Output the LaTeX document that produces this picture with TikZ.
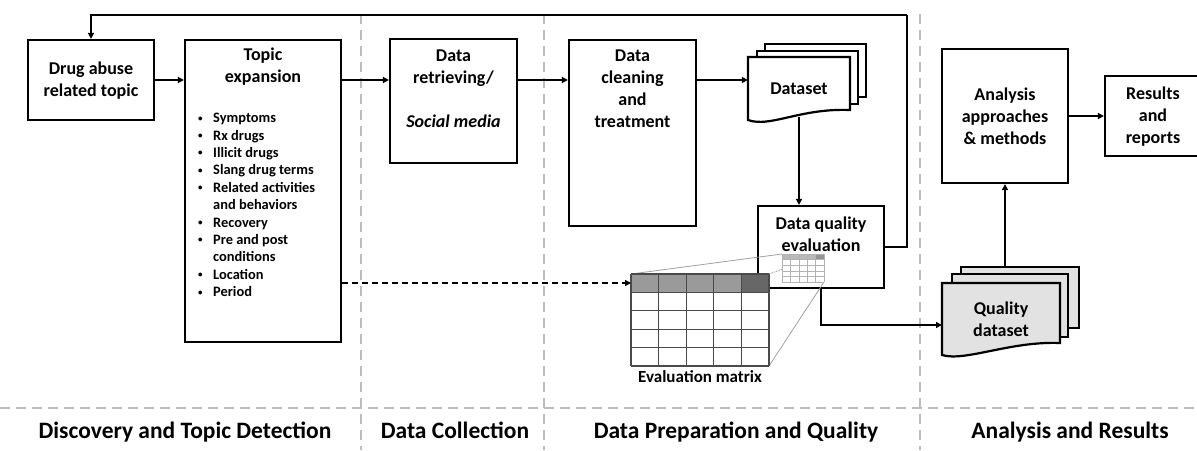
\documentclass[tikz,border=0pt]{standalone}
\usepackage{fontspec}
\setmainfont{Carlito}
\usetikzlibrary{arrows.meta}
\definecolor{sepgray}{HTML}{BDBDBD}
\definecolor{hdrgray}{HTML}{9A9A9A}
\definecolor{hdrdark}{HTML}{676767}
\definecolor{gridgray}{HTML}{4A4A4A}
\definecolor{zoomgray}{HTML}{A0A0A0}
\definecolor{qfill}{HTML}{E2E2E2}
\tikzset{
  box/.style={draw=black, line width=2.2pt, fill=white, inner sep=0pt},
  boxtext/.style={font=\bfseries\fontsize{18}{22}\selectfont, align=center, inner sep=0pt},
  arr/.style={line width=2pt, -{Triangle[length=6pt,width=6pt]}},
  dasharr/.style={line width=1.4pt, dash pattern=on 6pt off 4pt, -{Triangle[length=6pt,width=6pt]}},
  sep/.style={draw=sepgray, line width=2pt, dash pattern=on 10pt off 6pt},
  docline/.style={draw=black, line width=2.2pt},
  phase/.style={font=\bfseries\fontsize{23.5}{27}\selectfont, inner sep=0pt, anchor=base},
  bullets/.style={font=\bfseries\fontsize{14.4}{17.4}\selectfont, align=left, inner sep=0pt, anchor=north west},
}
\newcommand{\itm}[1]{\makebox[15pt][l]{\raisebox{1.5pt}{\fontsize{9}{9}\selectfont\textbullet}}#1}
\newcommand{\cnt}[1]{\hspace*{15pt}#1}
\begin{document}
\begin{tikzpicture}[x=1pt,y=-1pt]
\useasboundingbox (0,0) rectangle (1197,450);

% phase separators
\draw[sep] (361,14) -- (361,450);
\draw[sep] (544,14) -- (544,450);
\draw[sep] (920,14) -- (920,450);
\draw[sep] (0,408) -- (1197,408);

% process boxes
\node[box, minimum width=126pt, minimum height=80pt] (drug) at (91,80) {};
\node[boxtext] at (91,81) {Drug abuse\\related topic};

\node[box, minimum width=156pt, minimum height=302pt] (topic) at (263,191) {};
\node[boxtext] at (263,66.5) {Topic\\expansion};
\node[bullets] (list) at (198,113) {\itm{Symptoms}\\\itm{Rx drugs}\\\itm{Illicit drugs}\\\itm{Slang drug terms}\\\itm{Related activities}\\\cnt{and behaviors}\\\itm{Recovery}\\\itm{Pre and post}\\\cnt{conditions}\\\itm{Location}\\\itm{Period}};

\node[box, minimum width=127pt, minimum height=124pt] (retr) at (453.5,101) {};
\node[boxtext] at (453.5,89) {Data\\retrieving/\\[22pt]\textit{Social media}};

\node[box, minimum width=127pt, minimum height=186pt] (clean) at (632.5,133) {};
\node[boxtext] at (632.5,89) {Data\\cleaning\\and\\treatment};

\node[box, minimum width=126pt, minimum height=82pt] (dqe) at (821,247) {};
\node[boxtext] at (821,234) {Data quality\\evaluation};

\node[box, minimum width=126pt, minimum height=134pt] (ana) at (1005,116) {};
\node[boxtext] at (1005,116.5) {Analysis\\approaches\\\& methods};

\node[box, minimum width=96pt, minimum height=80pt] (res) at (1153,116) {};
\node[boxtext] at (1153,116.5) {Results\\and\\reports};

% dataset document stack
\draw[docline, fill=white] (765,44) rectangle (866,97);
\draw[docline, fill=white] (757,51) rectangle (858,104);
\draw[docline, fill=white] (748,57) -- (850,57) -- (850,110)
  .. controls (800,108) and (770,128) .. (748,120) -- cycle;
\node[boxtext, minimum width=102pt, minimum height=56pt] (dset) at (799,89) {Dataset};

% quality dataset document stack
\draw[docline, fill=qfill] (961,267) rectangle (1079,328);
\node[inner sep=0pt, minimum width=118pt, minimum height=61pt] (qback) at (1020,297.5) {};
\draw[docline, fill=qfill] (952,274) rectangle (1068,337);
\draw[docline, fill=qfill] (942,283) -- (1060,283) -- (1060,343)
  .. controls (1010,341) and (965,362) .. (942,355) -- cycle;
\node[boxtext, minimum width=118pt] (qd) at (1001,319.5) {Quality\\dataset};
\coordinate (qdin) at (942,325);

% evaluation matrix with its magnified view lines
\coordinate (mhead) at (631,283);
\draw[zoomgray, line width=0.8pt] (631,274) -- (782,254);
\draw[zoomgray, line width=0.8pt, dash pattern=on 1.5pt off 1pt] (769,274) -- (824,254);
\draw[zoomgray, line width=0.8pt] (769,366) -- (824,282);
\foreach \c in {0,...,4}{
  \pgfmathsetmacro{\xa}{631+27.6*\c}
  \ifnum\c=4 \def\hc{hdrdark}\else\def\hc{hdrgray}\fi
  \fill[\hc] (\xa,274) rectangle ++(27.6,18.4);
  \fill[white] (782+8.4*\c,254) rectangle ++(8.4,28);
  \fill[\hc!70!white] (782+8.4*\c,254) rectangle ++(8.4,5.6);
}
\fill[white] (631,292.4) rectangle (769,366);
\foreach \r in {0,...,5}{
  \draw[gridgray, line width=1.1pt] (631,274+18.4*\r) -- (769,274+18.4*\r);
  \draw[zoomgray!80!white, line width=0.5pt] (782,254+5.6*\r) -- (824,254+5.6*\r);
  \draw[gridgray, line width=1.1pt] (631+27.6*\r,274) -- (631+27.6*\r,366);
  \draw[zoomgray!80!white, line width=0.5pt] (782+8.4*\r,254) -- (782+8.4*\r,282);
}
\node[font=\bfseries\fontsize{17}{19}\selectfont, inner sep=0pt] (mlabel) at (700,377) {Evaluation matrix};

% connectors
\coordinate (fb) at (907,15);
\draw[arr] (drug.east) -- (drug.east -| topic.west);
\draw[arr] (drug.east -| topic.east) -- (drug.east -| retr.west);
\draw[arr] (drug.east -| retr.east) -- (drug.east -| clean.west);
\draw[arr] (drug.east -| clean.east) -- (drug.east -| dset.west);
\draw[arr] (dset.south) -- (dset.south |- dqe.north);
\draw[line width=2pt] (dqe.east) -| (fb);
\draw[arr] (fb) -| (drug.north);
\draw[arr] (dqe.south) |- (qdin);
\draw[arr] (ana.south |- qback.north) -- (ana.south);
\draw[arr] (ana.east) -- (res.west);
\draw[dasharr] (topic.east |- mhead) -- (mhead);

% phase labels
\node[phase] (p1) at (185,438) {Discovery and Topic Detection};
\node[phase] (p2) at (455,438) {Data Collection};
\node[phase] (p3) at (736,438) {Data Preparation and Quality};
\node[phase] (p4) at (1070,438) {Analysis and Results};
\end{tikzpicture}
\end{document}
